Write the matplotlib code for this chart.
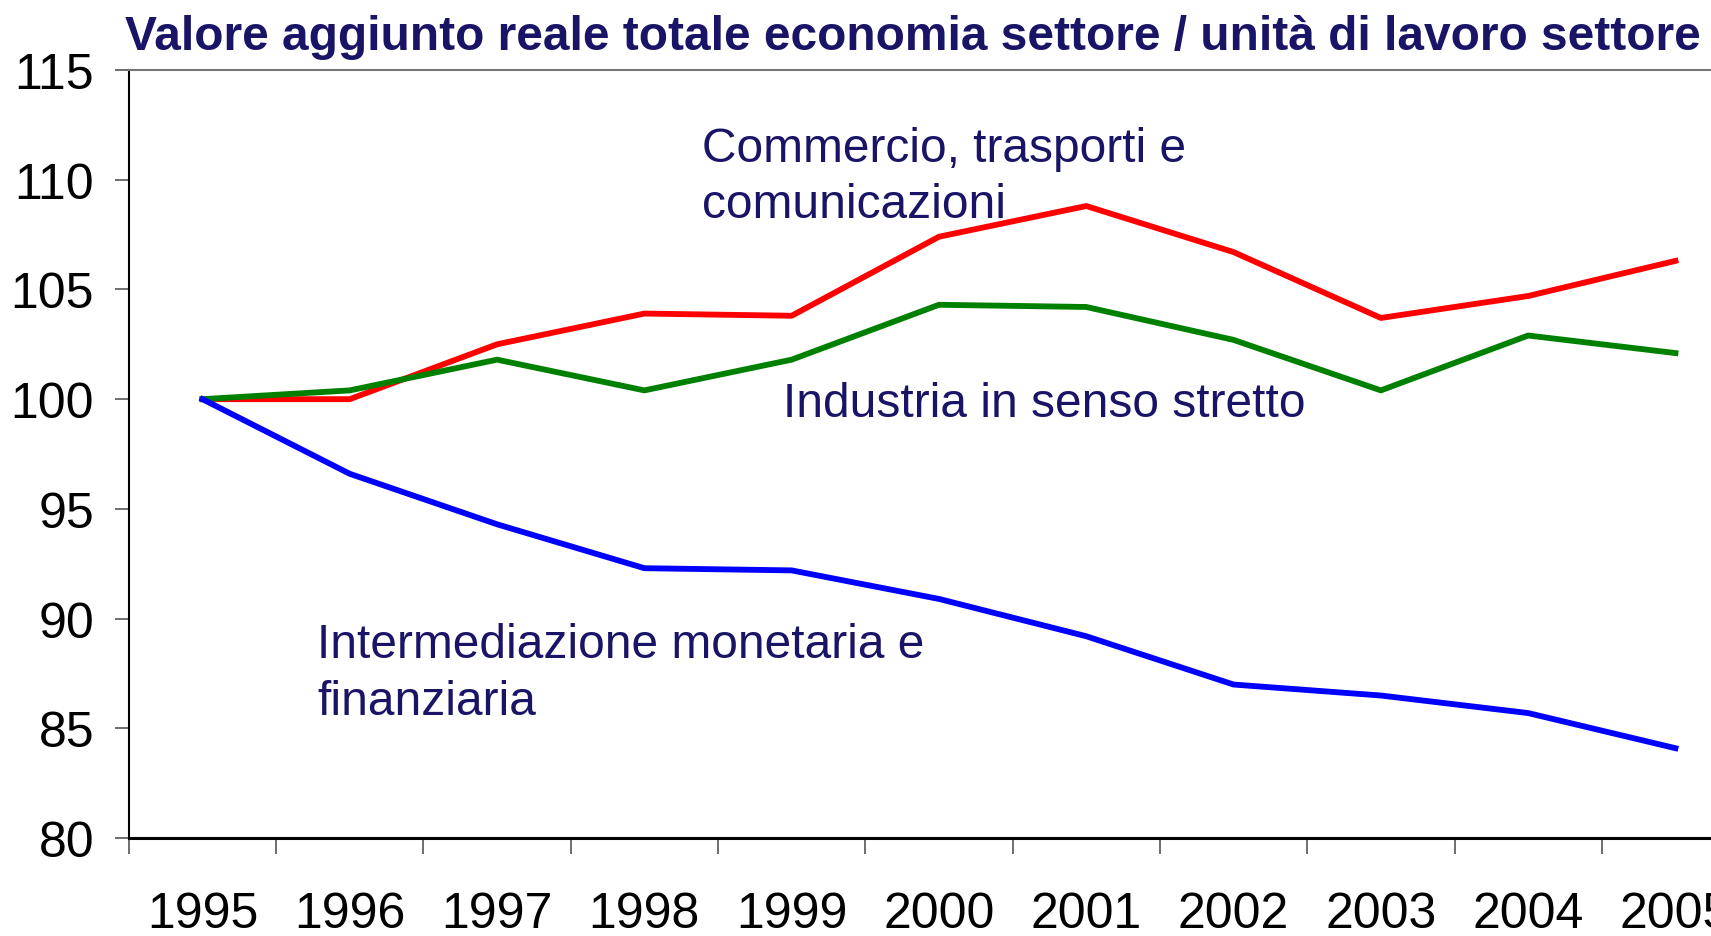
import matplotlib.pyplot as plt
from matplotlib.ticker import FixedLocator, NullFormatter

plt.rcParams['font.family'] = ['Liberation Sans', 'DejaVu Sans']

# valori (1995 = 100)
anni = ['1995', '1996', '1997', '1998', '1999', '2000',
        '2001', '2002', '2003', '2004', '2005']
commercio = [100.0, 100.0, 102.5, 103.9, 103.8, 107.4, 108.8, 106.7, 103.7, 104.7, 106.3]
industria = [100.0, 100.4, 101.8, 100.4, 101.8, 104.3, 104.2, 102.7, 100.4, 102.9, 102.1]
intermediazione = [100.0, 96.6, 94.3, 92.3, 92.2, 90.9, 89.2, 87.0, 86.5, 85.7, 84.1]

navy = '#1a1466'
W, H = 1711, 937

fig = plt.figure(figsize=(W / 100, H / 100), dpi=100)
# the plot runs past the right edge, like the original slide
ax = fig.add_axes([128.8 / W, 1 - 839.2 / H, 1620.3 / W, 768.3 / H])

x = list(range(len(anni)))
ax.plot(x, commercio, color='#ff0000', lw=4.2)
ax.plot(x, industria, color='#008000', lw=4.2)
ax.plot(x, intermediazione, color='#0000ff', lw=4.2)

ax.set_xlim(-0.5, len(anni) - 0.5)
ax.set_ylim(80, 115)

# y axis
ax.set_yticks(range(80, 116, 5))
ax.tick_params(axis='y', direction='out', length=10, width=1.2, color='#555555',
               labelsize=36, pad=15)

# x axis: tick marks between years, labels on the years
ax.xaxis.set_major_locator(FixedLocator([i - 0.5 for i in range(len(anni) + 1)]))
ax.xaxis.set_major_formatter(NullFormatter())
ax.xaxis.set_minor_locator(FixedLocator(x))
ax.set_xticklabels(anni, minor=True)
ax.tick_params(axis='x', which='major', direction='out', length=11.5, width=1.2,
               color='#555555')
ax.tick_params(axis='x', which='minor', length=0, labelsize=36, pad=38)

ax.spines['left'].set_linewidth(1.5)
ax.spines['bottom'].set_linewidth(2.2)
ax.spines['top'].set_color('#777777')
ax.spines['top'].set_linewidth(1.5)
ax.spines['right'].set_visible(False)

fig.text(125 / W, 1 - 50 / H,
         'Valore aggiunto reale totale economia settore / unità di lavoro settore',
         fontsize=34.5, fontweight='bold', color=navy, ha='left', va='baseline')

# etichette delle serie
fs = 34.5
fig.text(702 / W, 1 - 161.7 / H, 'Commercio, trasporti e', fontsize=fs,
         color=navy, ha='left', va='baseline')
fig.text(702 / W, 1 - 218.3 / H, 'comunicazioni', fontsize=fs,
         color=navy, ha='left', va='baseline')
fig.text(783 / W, 1 - 416.7 / H, 'Industria in senso stretto', fontsize=fs,
         color=navy, ha='left', va='baseline')
fig.text(317 / W, 1 - 658.3 / H, 'Intermediazione monetaria e', fontsize=fs,
         color=navy, ha='left', va='baseline')
fig.text(317 / W, 1 - 715 / H, 'finanziaria', fontsize=fs,
         color=navy, ha='left', va='baseline')

fig.savefig('out.png', dpi=100)
